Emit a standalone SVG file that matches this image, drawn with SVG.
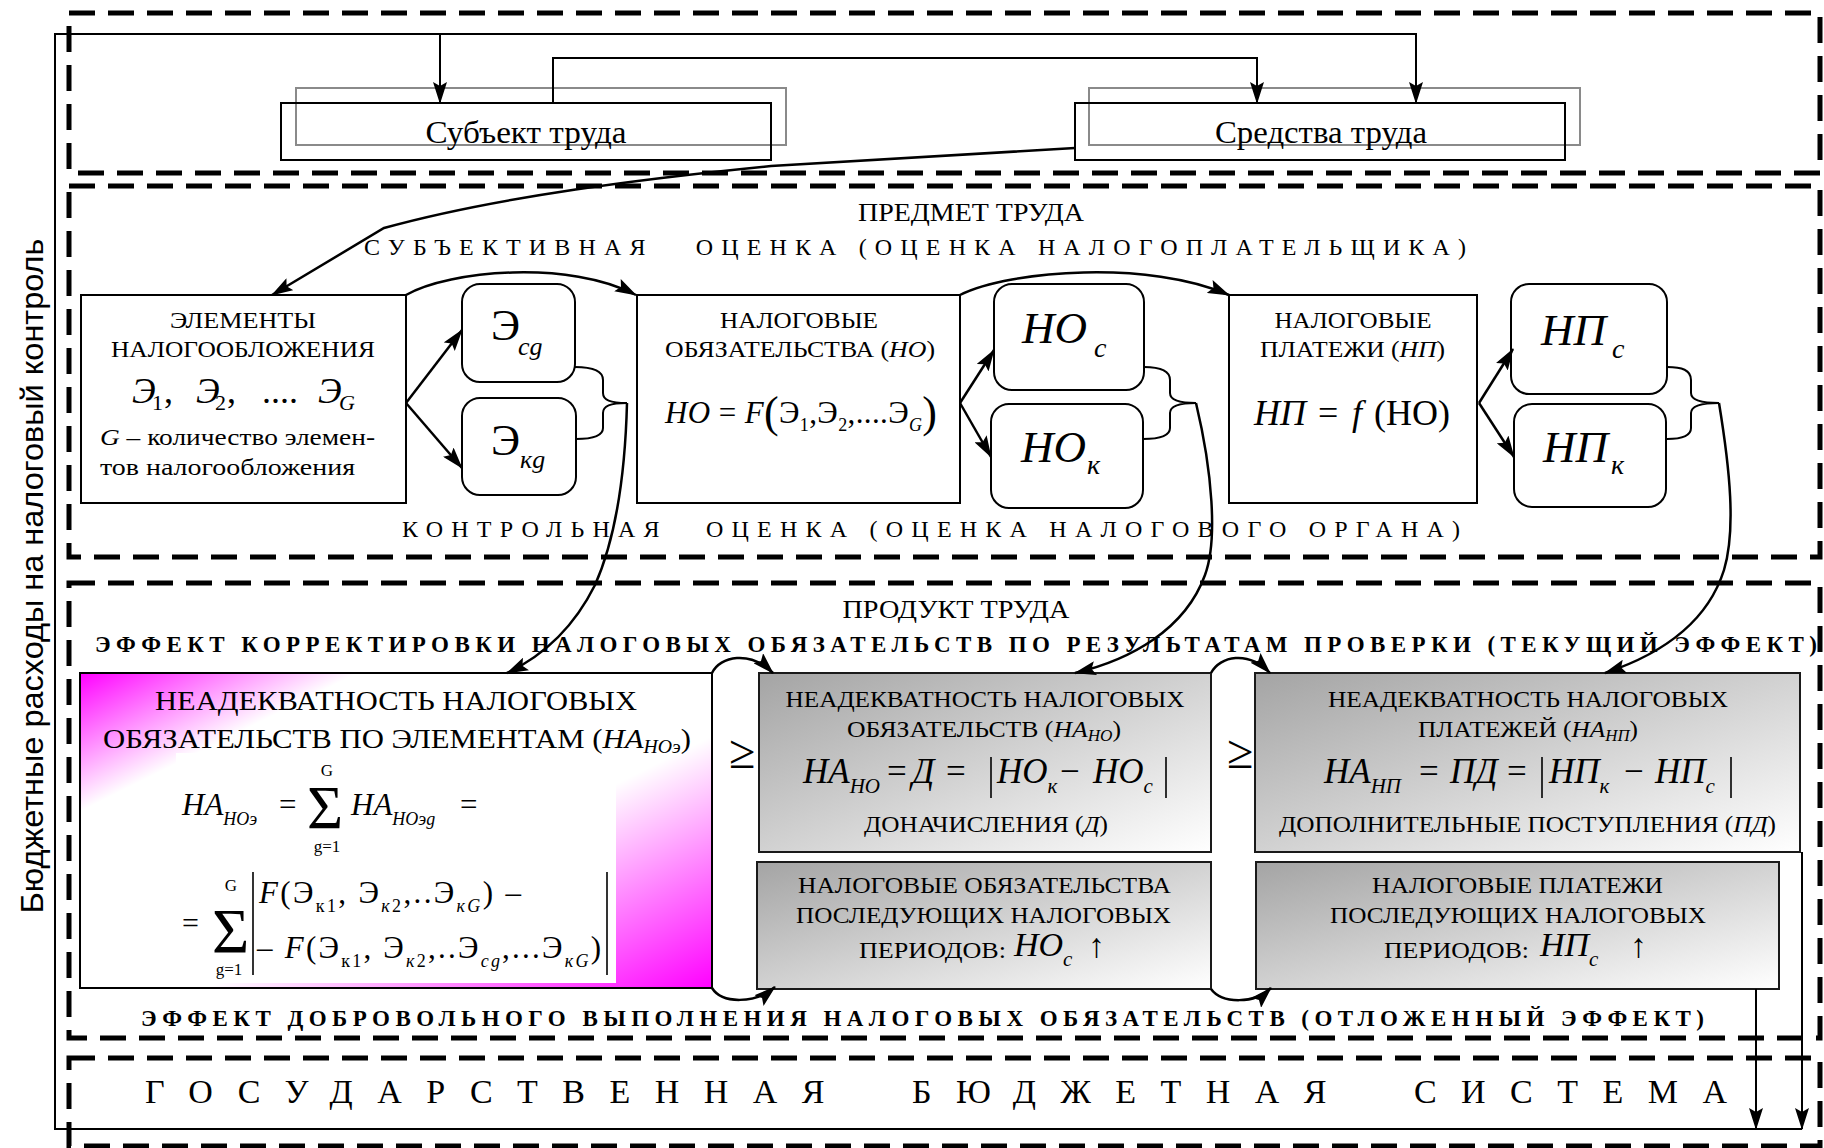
<svg xmlns="http://www.w3.org/2000/svg" width="1824" height="1148" viewBox="0 0 1824 1148">
<defs>
<style>
.t{font-family:"Liberation Serif","Times New Roman",serif;fill:#000}
.i{font-style:italic}
.n{font-style:normal}
.b{font-weight:bold}
.sec{fill:none;stroke:#000;stroke-width:5;stroke-dasharray:26 13}
.box{fill:#fff;stroke:#000;stroke-width:2}
.open{fill:none;stroke:#000;stroke-width:2}
.ghost{fill:none;stroke:#8a8a8a;stroke-width:2}
.gbox{fill:url(#gray);stroke:#1a1a1a;stroke-width:2}
.ln{fill:none;stroke:#000;stroke-width:2.5}
.thin{fill:none;stroke:#000;stroke-width:2}
.arr{marker-end:url(#ah)}
.bar{stroke:#000;stroke-width:1.6}
</style>
<marker id="ah" viewBox="0 0 22 14" markerWidth="22" markerHeight="14" refX="21" refY="7" orient="auto" markerUnits="userSpaceOnUse">
<path d="M0,0 L22,7 L0,14 L4,7 Z" fill="#000"/>
</marker>
<linearGradient id="gray" x1="0" y1="0" x2="1" y2="1">
<stop offset="0" stop-color="#a4a4a4"/>
<stop offset="1" stop-color="#ffffff"/>
</linearGradient>
<linearGradient id="pink" x1="0" y1="0" x2="1" y2="1">
<stop offset="0" stop-color="#ff00ff"/>
<stop offset="0.22" stop-color="#ffffff"/>
<stop offset="0.6" stop-color="#ffffff"/>
<stop offset="1" stop-color="#ff00ff"/>
</linearGradient>
</defs>
<rect width="1824" height="1148" fill="#fff"/>

<g id="sections">
<rect class="sec" x="69" y="13" width="1751" height="160"/>
<rect class="sec" x="69" y="186" width="1751" height="371"/>
<rect class="sec" x="69" y="583" width="1751" height="455"/>
<rect class="sec" x="69" y="1058" width="1751" height="88"/>
</g>

<g id="side-label">
<text class="t" style="font-family:'Liberation Sans',Arial,sans-serif" font-size="32" text-anchor="middle" transform="translate(43,576) rotate(-90)" textLength="675" lengthAdjust="spacingAndGlyphs">Бюджетные расходы на налоговый контроль</text>
</g>

<g id="subject">
<rect class="ghost" x="296" y="88" width="490" height="57"/>
<rect class="open" x="281" y="103" width="490" height="57"/>
<text class="t" x="526" y="143" font-size="31" text-anchor="middle" textLength="201" lengthAdjust="spacingAndGlyphs">Субъект труда</text>
</g>

<g id="means">
<rect class="ghost" x="1089" y="88" width="491" height="57"/>
<rect class="open" x="1075" y="103" width="490" height="57"/>
<text class="t" x="1321" y="143" font-size="31" text-anchor="middle" textLength="212" lengthAdjust="spacingAndGlyphs">Средства труда</text>
</g>

<g id="titles-2">
<text class="t" x="971" y="221" font-size="26" text-anchor="middle" textLength="226" lengthAdjust="spacingAndGlyphs">ПРЕДМЕТ ТРУДА</text>
<text class="t" x="364" y="255" font-size="24" textLength="1102" lengthAdjust="spacing">СУБЪЕКТИВНАЯ<tspan dx="28"> ОЦЕНКА (ОЦЕНКА НАЛОГОПЛАТЕЛЬЩИКА)</tspan></text>
<text class="t" x="402" y="537" font-size="24" textLength="1058" lengthAdjust="spacing">КОНТРОЛЬНАЯ<tspan dx="24"> ОЦЕНКА (ОЦЕНКА НАЛОГОВОГО ОРГАНА)</tspan></text>
</g>

<g id="elements">
<rect class="box" x="81" y="295" width="325" height="208"/>
<text class="t" x="243" y="328" font-size="24" text-anchor="middle" textLength="146" lengthAdjust="spacingAndGlyphs">ЭЛЕМЕНТЫ</text>
<text class="t" x="243" y="357" font-size="24" text-anchor="middle" textLength="264" lengthAdjust="spacingAndGlyphs">НАЛОГООБЛОЖЕНИЯ</text>
<text class="t i" font-size="36"><tspan x="132" y="403">Э</tspan><tspan class="n" x="152" y="410" font-size="22">1</tspan><tspan class="n" x="164" y="403">,</tspan><tspan x="196" y="403">Э</tspan><tspan class="n" x="215" y="410" font-size="22">2</tspan><tspan class="n" x="227" y="403">,</tspan><tspan class="n" x="262" y="403">....</tspan><tspan x="318" y="403">Э</tspan><tspan x="339" y="410" font-size="22">G</tspan></text>
<text class="t" x="100" y="445" font-size="24" textLength="275" lengthAdjust="spacingAndGlyphs"><tspan class="i">G</tspan> – количество элемен-</text>
<text class="t" x="100" y="475" font-size="24" textLength="255" lengthAdjust="spacingAndGlyphs">тов налогообложения</text>
</g>

<g id="e-cg">
<rect class="box" x="462" y="284" width="113" height="98" rx="18"/>
<text class="t" x="491" y="340" font-size="44">Э</text>
<text class="t i" x="518" y="355" font-size="26">cg</text>
</g>
<g id="e-kg">
<rect class="box" x="462" y="398" width="114" height="97" rx="18"/>
<text class="t" x="491" y="455" font-size="44">Э</text>
<text class="t i" x="520" y="468" font-size="26">кg</text>
</g>

<g id="obligations">
<rect class="box" x="637" y="295" width="323" height="208"/>
<text class="t" x="799" y="328" font-size="24" text-anchor="middle" textLength="158" lengthAdjust="spacingAndGlyphs">НАЛОГОВЫЕ</text>
<text class="t" x="665" y="357" font-size="24" textLength="270" lengthAdjust="spacingAndGlyphs">ОБЯЗАТЕЛЬСТВА (<tspan class="i">НО</tspan>)</text>
<text class="t" x="665" y="423" font-size="31" textLength="272" lengthAdjust="spacing"><tspan class="i">НО</tspan> = <tspan class="i">F</tspan><tspan font-size="44" dy="4">(</tspan><tspan dy="-4">Э</tspan><tspan font-size="18" dy="8">1</tspan><tspan dy="-8">,Э</tspan><tspan font-size="18" dy="8">2</tspan><tspan dy="-8">,....Э</tspan><tspan class="i" font-size="18" dy="8">G</tspan><tspan font-size="44" dy="-4">)</tspan></text>
</g>

<g id="no-c">
<rect class="box" x="994" y="284" width="150" height="106" rx="18"/>
<text class="t i" x="1022" y="343" font-size="45">НО</text>
<text class="t i" x="1094" y="357" font-size="28">c</text>
</g>
<g id="no-k">
<rect class="box" x="991" y="404" width="152" height="104" rx="18"/>
<text class="t i" x="1021" y="462" font-size="45">НО</text>
<text class="t i" x="1087" y="474" font-size="28">к</text>
</g>

<g id="payments">
<rect class="box" x="1229" y="295" width="248" height="208"/>
<text class="t" x="1353" y="328" font-size="24" text-anchor="middle" textLength="157" lengthAdjust="spacingAndGlyphs">НАЛОГОВЫЕ</text>
<text class="t" x="1260" y="357" font-size="24" textLength="185" lengthAdjust="spacingAndGlyphs">ПЛАТЕЖИ (<tspan class="i">НП</tspan>)</text>
<text class="t" font-size="36"><tspan class="i" x="1254" y="425">НП</tspan><tspan x="1318" y="425">=</tspan><tspan class="i" x="1352" y="425">f</tspan><tspan x="1374" y="425">(НО)</tspan></text>
</g>

<g id="np-c">
<rect class="box" x="1511" y="284" width="156" height="110" rx="18"/>
<text class="t i" x="1541" y="345" font-size="45">НП</text>
<text class="t i" x="1612" y="358" font-size="28">c</text>
</g>
<g id="np-k">
<rect class="box" x="1514" y="404" width="152" height="103" rx="18"/>
<text class="t i" x="1543" y="462" font-size="45">НП</text>
<text class="t i" x="1611" y="474" font-size="28">к</text>
</g>

<g id="titles-3">
<text class="t" x="956" y="618" font-size="25" text-anchor="middle" textLength="227" lengthAdjust="spacingAndGlyphs">ПРОДУКТ ТРУДА</text>
<text class="t b" x="95" y="652" font-size="23" textLength="1722" lengthAdjust="spacing">ЭФФЕКТ КОРРЕКТИРОВКИ НАЛОГОВЫХ ОБЯЗАТЕЛЬСТВ ПО РЕЗУЛЬТАТАМ ПРОВЕРКИ (ТЕКУЩИЙ ЭФФЕКТ)</text>
<text class="t b" x="141" y="1026" font-size="23" textLength="1563" lengthAdjust="spacing">ЭФФЕКТ ДОБРОВОЛЬНОГО ВЫПОЛНЕНИЯ НАЛОГОВЫХ ОБЯЗАТЕЛЬСТВ (ОТЛОЖЕННЫЙ ЭФФЕКТ)</text>
<text class="t" x="729" y="768" font-size="48">≥</text>
<text class="t" x="1227" y="768" font-size="48">≥</text>
</g>

<g id="na-elements">
<rect x="80" y="673" width="632" height="315" fill="url(#pink)" stroke="#000" stroke-width="2"/>
<rect x="176" y="753" width="440" height="230" fill="#fff"/>
<text class="t" x="396" y="710" font-size="28" text-anchor="middle" textLength="482" lengthAdjust="spacingAndGlyphs">НЕАДЕКВАТНОСТЬ НАЛОГОВЫХ</text>
<text class="t" x="103" y="748" font-size="28" textLength="588" lengthAdjust="spacingAndGlyphs">ОБЯЗАТЕЛЬСТВ ПО ЭЛЕМЕНТАМ (<tspan class="i">НА</tspan><tspan class="i" font-size="18" dy="5">НОэ</tspan><tspan dy="-5">)</tspan></text>
<text class="t" font-size="31" y="815"><tspan class="i" x="182">НА</tspan><tspan class="i" font-size="18" dy="10">НОэ</tspan><tspan x="279" dy="-10">=</tspan><tspan class="i" x="351">НА</tspan><tspan class="i" font-size="18" dy="10">НОэg</tspan><tspan x="460" dy="-10">=</tspan></text>
<text class="t" x="307" y="828" font-size="62">Σ</text>
<text class="t" x="327" y="776" font-size="17" text-anchor="middle">G</text>
<text class="t" x="327" y="852" font-size="17" text-anchor="middle">g=1</text>
<text class="t" x="182" y="933" font-size="30">=</text>
<text class="t" x="212" y="953" font-size="64">Σ</text>
<text class="t" x="231" y="891" font-size="17" text-anchor="middle">G</text>
<text class="t" x="229" y="975" font-size="17" text-anchor="middle">g=1</text>
<line class="bar" x1="253" y1="872" x2="253" y2="975"/>
<line class="bar" x1="607" y1="872" x2="607" y2="975"/>
<text class="t" x="259" y="903" font-size="31" textLength="262" lengthAdjust="spacing"><tspan class="i">F</tspan>(Э<tspan font-size="18" dy="9">к1</tspan><tspan dy="-9">, Э</tspan><tspan class="i" font-size="18" dy="9">к</tspan><tspan font-size="18">2</tspan><tspan dy="-9">,..Э</tspan><tspan class="i" font-size="18" dy="9">кG</tspan><tspan dy="-9">) –</tspan></text>
<text class="t" x="257" y="958" font-size="31" textLength="344" lengthAdjust="spacing">– <tspan class="i">F</tspan>(Э<tspan font-size="18" dy="9">к1</tspan><tspan dy="-9">, Э</tspan><tspan class="i" font-size="18" dy="9">к</tspan><tspan font-size="18">2</tspan><tspan dy="-9">,..Э</tspan><tspan class="i" font-size="18" dy="9">cg</tspan><tspan dy="-9">,...Э</tspan><tspan class="i" font-size="18" dy="9">кG</tspan><tspan dy="-9">)</tspan></text>
</g>

<g id="na-no">
<rect class="gbox" x="759" y="673" width="452" height="179"/>
<text class="t" x="985" y="707" font-size="24" text-anchor="middle" textLength="399" lengthAdjust="spacingAndGlyphs">НЕАДЕКВАТНОСТЬ НАЛОГОВЫХ</text>
<text class="t" x="847" y="737" font-size="24" textLength="274" lengthAdjust="spacingAndGlyphs">ОБЯЗАТЕЛЬСТВ (<tspan class="i">НА</tspan><tspan class="i" font-size="16" dy="4">НО</tspan><tspan dy="-4">)</tspan></text>
<text class="t i" font-size="35" y="783"><tspan x="803">НА</tspan><tspan font-size="21" dy="10">НО</tspan><tspan class="n" x="887" dy="-10">=</tspan><tspan x="912">Д</tspan><tspan class="n" x="946">=</tspan><tspan x="997">НО</tspan><tspan font-size="21" dy="10">к</tspan><tspan class="n" x="1060" dy="-10">−</tspan><tspan x="1093">НО</tspan><tspan font-size="21" dy="10">c</tspan></text>
<line class="bar" x1="991" y1="757" x2="991" y2="798"/>
<line class="bar" x1="1166" y1="757" x2="1166" y2="798"/>
<text class="t" x="864" y="832" font-size="24" textLength="244" lengthAdjust="spacingAndGlyphs">ДОНАЧИСЛЕНИЯ (<tspan class="i">Д</tspan>)</text>
</g>

<g id="no-future">
<rect class="gbox" x="757" y="862" width="454" height="127"/>
<text class="t" x="798" y="893" font-size="24" textLength="373" lengthAdjust="spacingAndGlyphs">НАЛОГОВЫЕ ОБЯЗАТЕЛЬСТВА</text>
<text class="t" x="796" y="923" font-size="24" textLength="375" lengthAdjust="spacingAndGlyphs">ПОСЛЕДУЮЩИХ НАЛОГОВЫХ</text>
<text class="t" x="859" y="958" font-size="23" textLength="147" lengthAdjust="spacingAndGlyphs">ПЕРИОДОВ:</text>
<text class="t i" x="1014" y="956" font-size="34">НО<tspan font-size="21" dy="10">c</tspan></text>
<text class="t" x="1088" y="957" font-size="34">↑</text>
</g>

<g id="na-np">
<rect class="gbox" x="1255" y="673" width="545" height="179"/>
<text class="t" x="1528" y="707" font-size="24" text-anchor="middle" textLength="400" lengthAdjust="spacingAndGlyphs">НЕАДЕКВАТНОСТЬ НАЛОГОВЫХ</text>
<text class="t" x="1418" y="737" font-size="24" textLength="220" lengthAdjust="spacingAndGlyphs">ПЛАТЕЖЕЙ (<tspan class="i">НА</tspan><tspan class="i" font-size="16" dy="4">НП</tspan><tspan dy="-4">)</tspan></text>
<text class="t i" font-size="35" y="783"><tspan x="1324">НА</tspan><tspan font-size="21" dy="10">НП</tspan><tspan class="n" x="1419" dy="-10">=</tspan><tspan x="1450">ПД</tspan><tspan class="n" x="1507">=</tspan><tspan x="1549">НП</tspan><tspan font-size="21" dy="10">к</tspan><tspan class="n" x="1624" dy="-10">−</tspan><tspan x="1655">НП</tspan><tspan font-size="21" dy="10">c</tspan></text>
<line class="bar" x1="1542" y1="757" x2="1542" y2="798"/>
<line class="bar" x1="1731" y1="757" x2="1731" y2="798"/>
<text class="t" x="1279" y="832" font-size="24" textLength="497" lengthAdjust="spacingAndGlyphs">ДОПОЛНИТЕЛЬНЫЕ ПОСТУПЛЕНИЯ (<tspan class="i">ПД</tspan>)</text>
</g>

<g id="np-future">
<rect class="gbox" x="1256" y="862" width="523" height="127"/>
<text class="t" x="1372" y="893" font-size="24" textLength="291" lengthAdjust="spacingAndGlyphs">НАЛОГОВЫЕ ПЛАТЕЖИ</text>
<text class="t" x="1330" y="923" font-size="24" textLength="376" lengthAdjust="spacingAndGlyphs">ПОСЛЕДУЮЩИХ НАЛОГОВЫХ</text>
<text class="t" x="1384" y="958" font-size="23" textLength="145" lengthAdjust="spacingAndGlyphs">ПЕРИОДОВ:</text>
<text class="t i" x="1540" y="956" font-size="34">НП<tspan font-size="21" dy="10">c</tspan></text>
<text class="t" x="1630" y="957" font-size="34">↑</text>
</g>

<g id="budget-system">
<text class="t" x="145" y="1103" font-size="34" word-spacing="30" textLength="1582" lengthAdjust="spacing">ГОСУДАРСТВЕННАЯ БЮДЖЕТНАЯ СИСТЕМА</text>
</g>

<g id="connectors">
<path class="thin arr" d="M1802,1129 L55,1129 L55,34 L1416,34 L1416,103"/>
<path class="thin arr" d="M440,34 L440,103"/>
<path class="thin arr" d="M553,103 L553,58 L1257,58 L1257,103"/>
<path class="thin arr" d="M1802,852 L1802,1129"/>
<path class="thin arr" d="M1756,989 L1756,1129"/>
<path class="ln arr" d="M1075,148 L771,166 C650,178 500,196 384,228 L272,295"/>
<path class="ln arr" d="M406,403 L462,330"/>
<path class="ln arr" d="M406,403 L462,468"/>
<path class="ln arr" d="M406,295 C450,270 570,260 636,295"/>
<path class="thin" d="M575,367 C592,367 603,370 603,380 L603,393 C603,400 610,403 627,403 C610,403 603,406 603,413 L603,428 C603,436 592,439 576,439"/>
<path class="ln arr" d="M627,403 C625,480 615,540 595,585 C575,625 545,655 507,673"/>
<path class="ln arr" d="M960,403 L994,350"/>
<path class="ln arr" d="M960,403 L991,457"/>
<path class="ln arr" d="M960,295 C1010,270 1150,260 1229,295"/>
<path class="thin" d="M1144,367 C1160,367 1170,370 1170,380 L1170,393 C1170,400 1178,403 1196,403 C1178,403 1170,406 1170,413 L1170,428 C1170,436 1158,439 1143,439"/>
<path class="ln arr" d="M1196,403 C1212,470 1218,540 1205,575 C1185,630 1130,660 1075,673"/>
<path class="ln arr" d="M1479,403 L1513,349"/>
<path class="ln arr" d="M1479,403 L1514,457"/>
<path class="thin" d="M1667,367 C1682,367 1691,370 1691,380 L1691,393 C1691,400 1700,403 1719,403 C1700,403 1691,406 1691,413 L1691,428 C1691,436 1682,439 1667,439"/>
<path class="ln arr" d="M1719,403 C1730,470 1736,530 1724,570 C1705,630 1650,658 1605,673"/>
<path class="ln arr" d="M712,673 C720,656 750,650 773,673"/>
<path class="ln arr" d="M1211,673 C1220,656 1248,650 1270,673"/>
<path class="ln arr" d="M712,988 C722,1004 755,1004 775,987"/>
<path class="ln arr" d="M1211,989 C1222,1004 1255,1004 1271,988"/>
</g>
</svg>
